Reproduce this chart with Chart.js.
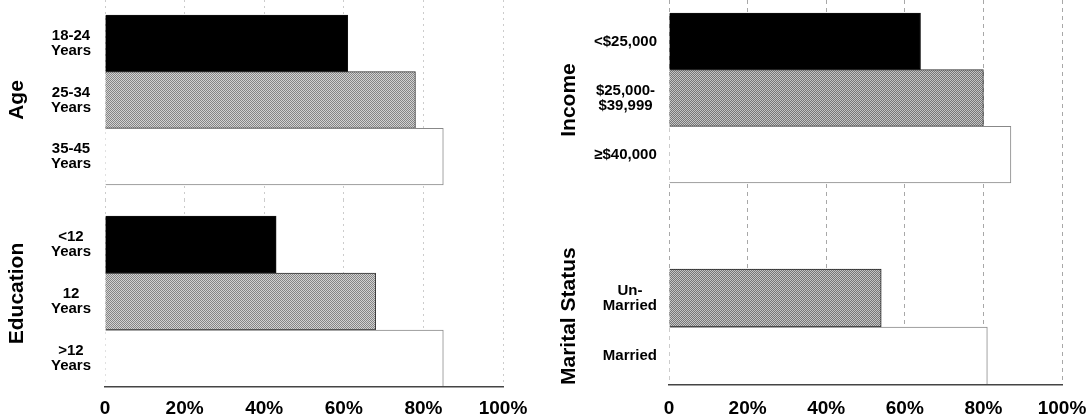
<!DOCTYPE html>
<html>
<head>
<meta charset="utf-8">
<script src="https://cdn.jsdelivr.net/npm/chart.js@4.4.1/dist/chart.umd.min.js"></script>
<style>
  body { margin: 0; background: #fff; }
  #wrap { position: relative; width: 1090px; height: 416px; }
  canvas { position: absolute; }
</style>
</head>
<body>
<div id="wrap">
  <canvas id="age" width="545" height="200" style="left:0;top:0"></canvas>
  <canvas id="edu" width="545" height="216" style="left:0;top:200px"></canvas>
  <canvas id="income" width="545" height="200" style="left:545px;top:0"></canvas>
  <canvas id="marital" width="545" height="216" style="left:545px;top:200px"></canvas>
</div>
<script>
const xTickLabels = ['0', '20%', '40%', '60%', '80%', '100%']

const ageLabels = [['18-24', 'Years'], ['25-34', 'Years'], ['35-45', 'Years']]
const ageValues = [61, 78, 85]
const eduLabels = [['<12', 'Years'], ['12', 'Years'], ['>12', 'Years']]
const eduValues = [43, 68, 85]
const incomeLabels = ['<$25,000', ['$25,000-', '$39,999'], '≥$40,000']
const incomeValues = [64, 80, 87]
const maritalLabels = [['Un-', 'Married'], 'Married']
const maritalValues = [54, 81]

Chart.defaults.font.family = "'Liberation Sans', Arial, sans-serif"
Chart.defaults.color = '#000'

// halftone-ish grey fill like the scanned original
function dither(light, dark) {
  const c = document.createElement('canvas')
  c.width = 2
  c.height = 2
  const ctx = c.getContext('2d')
  ctx.fillStyle = light
  ctx.fillRect(0, 0, 2, 2)
  ctx.fillStyle = dark
  ctx.fillRect(0, 0, 1, 1)
  ctx.fillRect(1, 1, 1, 1)
  return ctx.createPattern(c, 'repeat')
}
const greyL = dither('#d2d2d2', '#858585')
const greyR = dither('#c4c4c4', '#777777')

// first label sits on top: positions count down from n-1
function makeChart(id, labels, values, colors, borders, o) {
  const n = labels.length
  return new Chart(document.getElementById(id), {
    type: 'bar',
    data: {
      datasets: [{
        data: values.map((v, i) => ({ x: v, y: n - 1 - i })),
        backgroundColor: colors,
        borderColor: borders,
        borderWidth: 1,
        barPercentage: 1,
        categoryPercentage: 1
      }]
    },
    options: {
      indexAxis: 'y',
      responsive: false,
      animation: false,
      layout: { padding: { right: o.padRight } },
      plugins: { legend: { display: false }, tooltip: { enabled: false } },
      scales: {
        x: {
          type: 'linear', min: 0, max: 100,
          ticks: {
            display: o.showTicks, stepSize: 20, autoSkip: false, maxRotation: 0,
            padding: o.tickPad,
            font: { size: 19, weight: 'bold' },
            callback: (v, i) => xTickLabels[i]
          },
          grid: { color: o.gridColor, drawTicks: false },
          border: { display: o.showTicks, color: '#444', width: 1.5, dash: o.gridDash, z: 1 },
          afterFit: s => {
            s.height = o.axisH
            s.paddingLeft = 0
            s.paddingRight = 0
          }
        },
        y: {
          type: 'linear', offset: false, min: o.min, max: o.max,
          afterBuildTicks: s => { s.ticks = labels.map((l, i) => ({ value: i })) },
          afterFit: s => {
            s.width = o.yWidth
            s.paddingTop = 0
            s.paddingBottom = 0
          },
          ticks: {
            autoSkip: false, crossAlign: 'center', padding: o.labelPad,
            font: { size: 15, weight: 'bold', lineHeight: 1 },
            callback: v => labels[n - 1 - v]
          },
          grid: { display: false },
          border: { display: false },
          title: {
            display: true, text: o.title, align: o.titleAlign || 'center',
            font: { size: 21, weight: 'bold' },
            padding: { top: o.titlePad, bottom: 0 }
          }
        }
      }
    }
  })
}

const left = { yWidth: 105, padRight: 42, labelPad: 6, titlePad: 5, gridColor: '#cccccc', gridDash: [2, 4] }
const right = { yWidth: 124, padRight: 28, labelPad: 4, titlePad: 12, gridColor: '#a8a8a8', gridDash: [4, 4] }

makeChart('age', ageLabels, ageValues, ['#000', greyL, '#fff'], ['#111', '#333', '#888'],
  { ...left, title: 'Age', min: -0.765, max: 2.765, showTicks: false, axisH: 0, tickPad: 0 })
makeChart('edu', eduLabels, eduValues, ['#000', greyL, '#fff'], ['#111', '#333', '#888'],
  { ...left, title: 'Education', min: -0.5, max: 2.78, showTicks: true, axisH: 29, tickPad: 10 })
makeChart('income', incomeLabels, incomeValues, ['#000', greyR, '#fff'], ['#111', '#333', '#888'],
  { ...right, title: 'Income', min: -0.8, max: 2.73, showTicks: false, axisH: 0, tickPad: 0 })
makeChart('marital', maritalLabels, maritalValues, [greyR, '#fff'], ['#222', '#888'],
  { ...right, title: 'Marital Status', titleAlign: 'start', min: -0.5, max: 2.69, showTicks: true, axisH: 31, tickPad: 12 })
</script>
</body>
</html>
